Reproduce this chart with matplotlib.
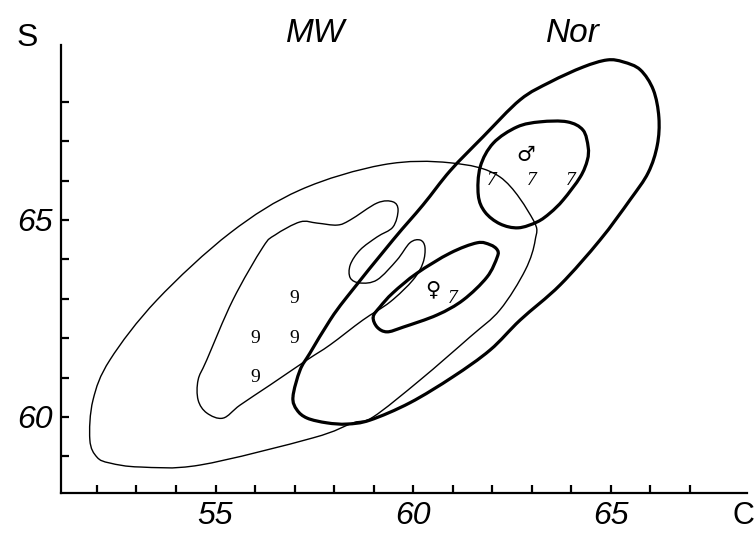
import numpy as np
import matplotlib
matplotlib.use("Agg")
import matplotlib.pyplot as plt
from matplotlib.path import Path
from matplotlib.patches import PathPatch

# ---- contour outlines (data coordinates C, S) ----
mw_outer_x = [51.82, 51.90, 52.33, 53.52, 55.37, 57.14, 59.24, 60.94, 62.20, 63.04, 63.09,
              62.84, 62.20, 61.44, 60.18, 58.99, 58.48, 57.47, 54.61, 53.09, 52.33, 52.00]
mw_outer_y = [59.42, 60.43, 61.45, 62.97, 64.67, 65.76, 66.40, 66.45, 66.09, 65.00, 64.49,
              63.73, 62.72, 62.03, 60.94, 60.00, 59.85, 59.47, 58.78, 58.73, 58.83, 58.98]

mw_inner_x = [55.19, 54.78, 54.56, 54.56, 54.78, 55.44, 56.20, 56.51, 57.14, 57.57, 58.08,
              58.41, 59.09, 59.49, 59.62, 59.49, 59.09, 58.66, 58.41, 58.41, 58.66, 59.09,
              59.59, 59.92, 60.18, 60.30, 60.25, 60.00, 59.42, 58.73, 57.90, 57.32, 56.38,
              55.62]
mw_inner_y = [59.97, 60.10, 60.43, 60.94, 61.45, 62.97, 64.31, 64.62, 64.95, 64.92, 64.87,
              65.00, 65.43, 65.46, 65.25, 64.82, 64.57, 64.24, 63.86, 63.53, 63.40, 63.48,
              63.98, 64.42, 64.49, 64.31, 63.91, 63.48, 62.92, 62.46, 61.83, 61.45, 60.81,
              60.30]

nor_outer_x = [56.96, 57.14, 57.39, 57.90, 58.33, 59.49, 60.25, 60.94, 61.77, 62.71, 63.47,
               64.30, 64.91, 65.32, 65.75, 66.08, 66.22, 66.18, 65.95, 65.49, 64.73, 63.72,
               62.71, 61.95, 61.01, 59.92, 58.91, 58.33, 57.82, 57.32, 57.06]
nor_outer_y = [60.51, 61.19, 61.62, 62.46, 63.05, 64.49, 65.38, 66.25, 67.11, 68.05, 68.50,
               68.88, 69.06, 69.01, 68.81, 68.30, 67.60, 66.90, 66.20, 65.51, 64.49, 63.35,
               62.46, 61.70, 61.02, 60.36, 59.92, 59.82, 59.85, 59.97, 60.18]

male_x = [61.65, 61.70, 62.03, 62.63, 63.22, 63.90, 64.30, 64.43, 64.41, 64.23, 63.80,
          63.47, 63.14, 62.66, 62.20, 61.82]
male_y = [65.63, 66.35, 66.95, 67.36, 67.49, 67.49, 67.28, 66.85, 66.52, 66.09, 65.51,
          65.18, 64.95, 64.80, 64.90, 65.20]

female_x = [58.99, 59.09, 59.34, 59.75, 60.61, 61.27, 61.87, 62.13, 62.13, 61.95, 61.62,
            60.94, 60.10, 59.49, 59.16]
female_y = [62.54, 62.28, 62.16, 62.28, 62.59, 62.97, 63.55, 64.06, 64.24, 64.37, 64.42,
            64.16, 63.65, 63.15, 62.79]

# ---- individual points ----
nine_x = [57, 56, 57, 56]
nine_y = [63, 62, 62, 61]
seven_x = [62, 63, 64, 61]
seven_y = [66, 66, 66, 63]
male_sym = (62.85, 66.65)
female_sym = (60.5, 63.25)

x_ticks = list(range(52, 68))
y_ticks = list(range(59, 69))
x_ticklabels = {55: "55", 60: "60", 65: "65"}
y_ticklabels = {60: "60", 65: "65"}


def closed_bezier(xs, ys):
    P = np.column_stack([xs, ys])
    n = len(P)
    verts = [P[0]]
    codes = [Path.MOVETO]
    for i in range(n):
        p0, p1, p2, p3 = P[i - 1], P[i], P[(i + 1) % n], P[(i + 2) % n]
        c1 = p1 + (p2 - p0) / 6.0
        c2 = p2 - (p3 - p1) / 6.0
        verts += [c1, c2, p2]
        codes += [Path.CURVE4] * 3
    return Path(verts, codes)


fig = plt.figure(figsize=(7.56, 5.35), dpi=100)
ax = fig.add_axes([61 / 756, 42 / 535, (747 - 61) / 756, (493 - 45) / 535])
ax.set_xlim(51.09, 68.45)
ax.set_ylim(58.07, 69.44)

thin = 1.0
thick = 2.3
for xs, ys, lw in [(mw_outer_x, mw_outer_y, thin), (mw_inner_x, mw_inner_y, thin),
                   (nor_outer_x, nor_outer_y, thick), (male_x, male_y, thick),
                   (female_x, female_y, thick)]:
    ax.add_patch(PathPatch(closed_bezier(xs, ys), fill=False, ec="black", lw=lw,
                           joinstyle="round"))

for x, y in zip(nine_x, nine_y):
    ax.text(x, y, "9", ha="center", va="center", fontsize=14,
            family="Liberation Serif")
for x, y in zip(seven_x, seven_y):
    ax.text(x, y, "7", ha="center", va="center", fontsize=14,
            family="Liberation Serif", style="italic")
ax.text(*male_sym, "♂", ha="center", va="center", fontsize=15, family="DejaVu Sans")
ax.text(*female_sym, "♀", ha="center", va="center", fontsize=15, family="DejaVu Sans")

for s in ["top", "right"]:
    ax.spines[s].set_visible(False)
for s in ["left", "bottom"]:
    ax.spines[s].set_linewidth(1.6)

ax.set_xticks(x_ticks)
ax.set_yticks(y_ticks)
ax.set_xticklabels([x_ticklabels.get(t, "") for t in x_ticks])
ax.set_yticklabels([y_ticklabels.get(t, "") for t in y_ticks])
ax.tick_params(direction="in", length=6, width=1.6, pad=6, labelsize=23)
for lab in ax.get_xticklabels() + ax.get_yticklabels():
    lab.set_family("Liberation Sans")
    lab.set_style("italic")

fig.text(27 / 756, 1 - 38 / 535, "S", ha="center", va="center", fontsize=23,
         family="Liberation Sans")
fig.text(754 / 756, 1 - 516 / 535, "C", ha="right", va="center", fontsize=22,
         family="Liberation Sans")
fig.text(316 / 756, 1 - 33 / 535, "MW", ha="center", va="center", fontsize=24,
         family="Liberation Sans", style="italic")
fig.text(573 / 756, 1 - 33 / 535, "Nor", ha="center", va="center", fontsize=24,
         family="Liberation Sans", style="italic")

fig.savefig("out.png", dpi=100)
